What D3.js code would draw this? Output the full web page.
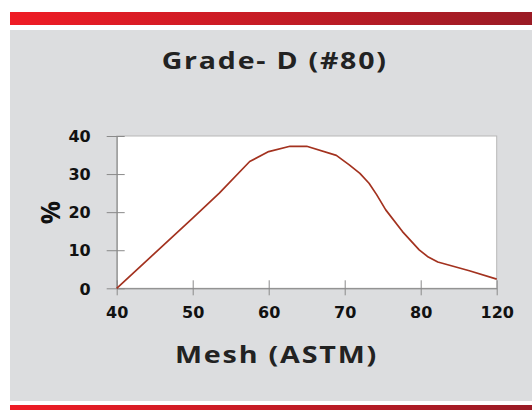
<!DOCTYPE html>
<html><head><meta charset="utf-8">
<script src="https://cdn.jsdelivr.net/npm/d3@7"></script>
<style>body{margin:0;background:#fff}svg{display:block}</style>
</head><body>
<script>
const meshTicks = [40, 50, 60, 70, 80, 120];
const pctTicks = [0, 10, 20, 30, 40];
const mesh = [40, 50, 53.5, 57.5, 60, 62.8, 65, 68.9, 70.6, 72, 73.2, 74.2, 75.4, 77.6, 79.8, 84, 89, 105.6, 120];
const pct  = [0, 18.4, 25, 33.3, 35.9, 37.3, 37.3, 34.9, 32.4, 30.2, 27.6, 24.6, 20.6, 14.9, 10.1, 8.2, 6.9, 4.6, 2.4];

const W = 532, H = 410;
const svg = d3.select("body").append("svg").attr("width", W).attr("height", H);
const defs = svg.append("defs");
const grad = defs.append("linearGradient").attr("id", "rg").attr("x1", "0").attr("x2", "1").attr("y1", "0").attr("y2", "0");
grad.append("stop").attr("offset", "0").attr("stop-color", "#ef1c25");
grad.append("stop").attr("offset", "1").attr("stop-color", "#9a1b25");

svg.append("rect").attr("x", 10).attr("y", 12).attr("width", W - 10).attr("height", 13).attr("fill", "url(#rg)");
svg.append("rect").attr("x", 10).attr("y", 30).attr("width", W - 10).attr("height", 371).attr("fill", "#dcdddf");
svg.append("rect").attr("x", 10).attr("y", 405).attr("width", W - 10).attr("height", 8).attr("fill", "url(#rg)");

const L = 116.7, R = 496.7, T = 136, B = 288.3;
const x = d3.scaleLinear().domain(meshTicks).range(meshTicks.map((d, i) => L + i * (R - L) / (meshTicks.length - 1)));
const y = d3.scaleLinear().domain([0, 40]).range([B, T]);

svg.append("rect").attr("x", L).attr("y", T).attr("width", R - L).attr("height", B - T)
  .attr("fill", "#fff").attr("stroke", "#b8b8b8").attr("stroke-width", 1);

// axes
const xa = svg.append("g").attr("transform", `translate(0,${B})`)
  .call(d3.axisBottom(x).tickValues(meshTicks).tickFormat(d3.format("d")).tickSizeOuter(0));
xa.select(".domain").attr("stroke", "#7f7f7f");
xa.selectAll(".tick line").attr("y1", -8).attr("y2", 7).attr("stroke", "#8a8a8a");
xa.selectAll(".tick text").attr("y", 0).attr("dy", "30px")
  .attr("font-family", "DejaVu Sans").attr("font-weight", "bold").attr("font-size", 16).attr("fill", "#111");

const ya = svg.append("g").attr("transform", `translate(${L},0)`)
  .call(d3.axisLeft(y).tickValues(pctTicks).tickSizeOuter(0));
ya.select(".domain").attr("stroke", "#7f7f7f");
ya.selectAll(".tick line").attr("x1", -10).attr("x2", 8).attr("stroke", "#8a8a8a");
ya.selectAll(".tick text").attr("x", -26).attr("dy", "0.36em")
  .attr("font-family", "DejaVu Sans").attr("font-weight", "bold").attr("font-size", 16).attr("fill", "#111");

// line
const line = d3.line().x((d, i) => x(mesh[i])).y((d, i) => y(pct[i]));
svg.append("path").datum(pct).attr("d", line).attr("fill", "none")
  .attr("stroke", "#a3321f").attr("stroke-width", 1.7).attr("stroke-linejoin", "round");

// titles
svg.append("text").attr("x", 161.7).attr("y", 68.5).text("Grade- D (#80)")
  .attr("font-family", "Open Sans").attr("font-weight", "bold").attr("font-size", 24).attr("letter-spacing", 1.5)
  .attr("fill", "#222").attr("textLength", 226).attr("lengthAdjust", "spacingAndGlyphs");
svg.append("text").attr("x", 175).attr("y", 363.3).text("Mesh (ASTM)")
  .attr("font-family", "Open Sans").attr("font-weight", "bold").attr("font-size", 24).attr("letter-spacing", 1.5)
  .attr("fill", "#222").attr("textLength", 203).attr("lengthAdjust", "spacingAndGlyphs");
svg.append("text").attr("transform", "translate(60,212.5) rotate(-90)").attr("text-anchor", "middle")
  .text("%").attr("font-family", "Open Sans").attr("font-weight", "bold").attr("font-size", 26).attr("fill", "#111");
</script>
</body></html>
